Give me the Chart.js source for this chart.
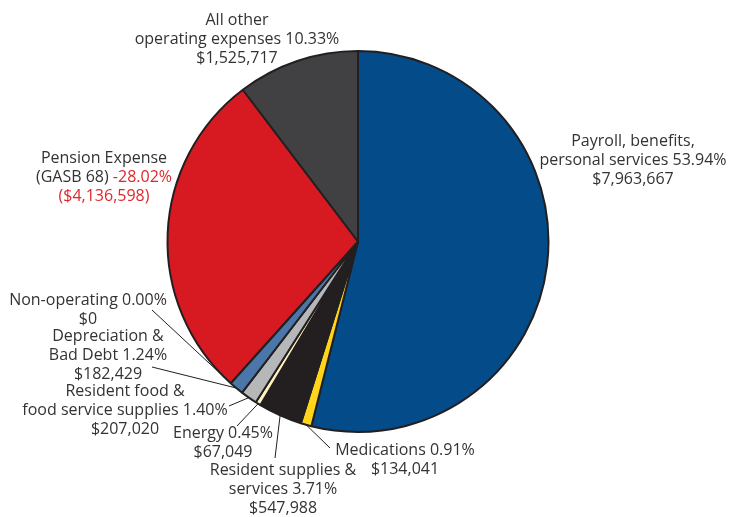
<!DOCTYPE html>
<html>
<head>
<meta charset="utf-8">
<script src="https://cdn.jsdelivr.net/npm/chart.js@4"></script>
<style>
  html, body { margin: 0; padding: 0; background: #fff; }
  #wrap { width: 739px; height: 517px; }
</style>
</head>
<body>
<div id="wrap"><canvas id="expense-chart" width="739" height="517"></canvas></div>
<script>
// categories, clockwise from 12 o'clock
const categories = [
    'Payroll, benefits,\npersonal services',
    'Medications',
    'Resident supplies &\nservices',
    'Energy',
    'Resident food &\nfood service supplies',
    'Depreciation &\nBad Debt',
    'Non-operating',
    'Pension Expense\n(GASB 68)',
    'All other\noperating expenses'
];
// dollar amounts (pension is negative)
const amounts = [7963667, 134041, 547988, 67049, 207020, 182429, 0, -4136598, 1525717];
const percents = [53.94, 0.91, 3.71, 0.45, 1.40, 1.24, 0.00, -28.02, 10.33];
const sliceColors = ['#034b89', '#ffd51c', '#231f20', '#fff3c0', '#b5b7b9', '#4a76a9', '#ffffff', '#d71a21', '#414143'];

// label placement (center x, first line y, leader start)
const labelPos = [
    { x: 633, y: 141, lead: null },
    { x: 405, y: 450, lead: [330, 448] },
    { x: 283, y: 470, lead: [275, 458] },
    { x: 223, y: 433, lead: [237, 426] },
    { x: 125, y: 391, lead: [229, 406] },
    { x: 108, y: 336, lead: [152, 367] },
    { x: 88, y: 300, lead: [152, 310] },
    { x: 104, y: 158, lead: null },
    { x: 237, y: 20, lead: null }
];

const TEXT = '#333333';
const RED = '#e0262c';
const FONT = '16px "Open Sans"';
const LINE_H = 19;

const fmtMoney = v => {
    const s = '$' + Math.abs(v).toLocaleString('en-US');
    return v < 0 ? '(' + s + ')' : s;
};

const labelPlugin = {
    id: 'pieLabels',
    afterDraw(chart) {
        const ctx = chart.ctx;
        const arcs = chart.getDatasetMeta(0).data;
        ctx.save();
        ctx.font = FONT;
        ctx.textBaseline = 'middle';

        categories.forEach((cat, i) => {
            const pos = labelPos[i];
            const arc = arcs[i];
            const neg = amounts[i] < 0;

            // leader line
            if (pos.lead) {
                const p = arc.getProps(['x', 'y', 'startAngle', 'endAngle', 'outerRadius'], true);
                const mid = (p.startAngle + p.endAngle) / 2;
                ctx.beginPath();
                ctx.moveTo(pos.lead[0], pos.lead[1]);
                ctx.lineTo(p.x + Math.cos(mid) * p.outerRadius, p.y + Math.sin(mid) * p.outerRadius);
                ctx.strokeStyle = '#231f20';
                ctx.lineWidth = 1;
                ctx.stroke();
            }

            const lines = cat.split('\n');
            const pct = percents[i].toFixed(2) + '%';
            lines.forEach((line, j) => {
                const y = pos.y + j * LINE_H;
                if (j === lines.length - 1) {
                    const a = line + ' ';
                    const wa = ctx.measureText(a).width;
                    const wb = ctx.measureText(pct).width;
                    const x0 = pos.x - (wa + wb) / 2;
                    ctx.textAlign = 'left';
                    ctx.fillStyle = TEXT;
                    ctx.fillText(a, x0, y);
                    ctx.fillStyle = neg ? RED : TEXT;
                    ctx.fillText(pct, x0 + wa, y);
                } else {
                    ctx.textAlign = 'center';
                    ctx.fillStyle = TEXT;
                    ctx.fillText(line, pos.x, y);
                }
            });
            ctx.textAlign = 'center';
            ctx.fillStyle = neg ? RED : TEXT;
            ctx.fillText(fmtMoney(amounts[i]), pos.x, pos.y + lines.length * LINE_H);
        });
        ctx.restore();
    }
};

new Chart(document.getElementById('expense-chart'), {
    type: 'pie',
    data: {
        labels: categories,
        datasets: [{
            data: amounts.map(v => Math.abs(v)),
            backgroundColor: sliceColors,
            borderColor: '#231f20',
            borderWidth: 2
        }]
    },
    options: {
        responsive: false,
        animation: false,
        layout: { padding: { top: 50, bottom: 84, left: 166, right: 189 } },
        plugins: {
            legend: { display: false },
            tooltip: { enabled: false }
        }
    },
    plugins: [labelPlugin]
});
</script>
</body>
</html>
